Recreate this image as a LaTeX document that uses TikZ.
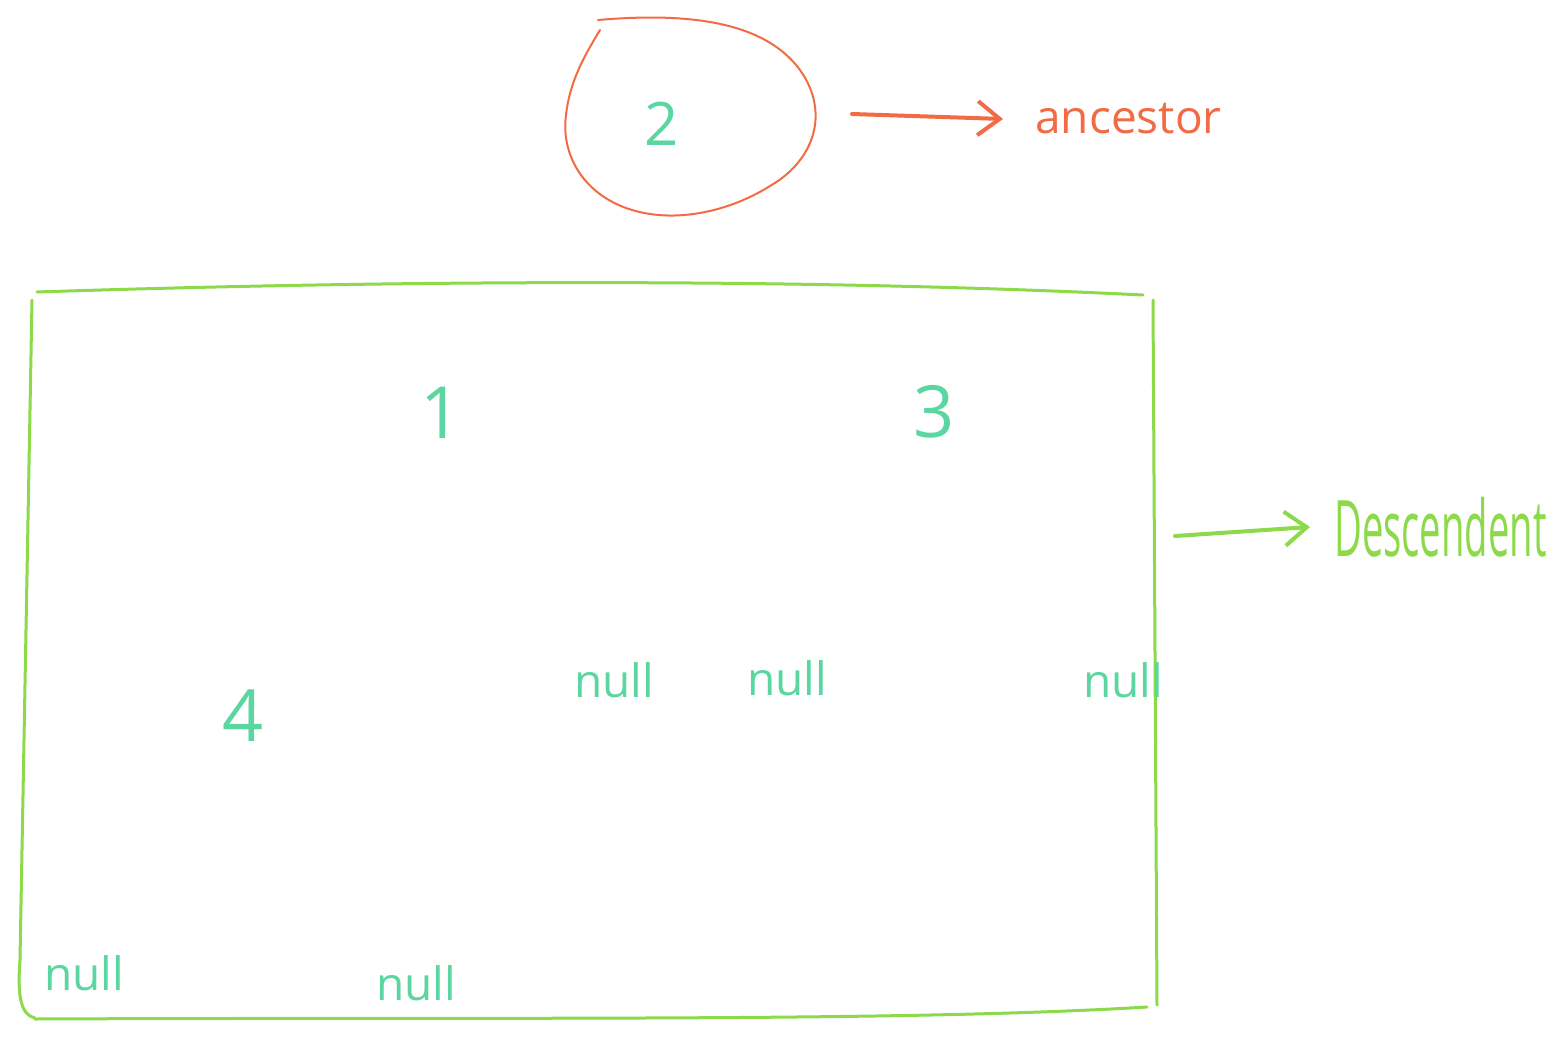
\documentclass[tikz,border=0pt]{standalone}
\usepackage{fontspec}
\setmainfont{Open Sans}
\usetikzlibrary{arrows.meta}
\definecolor{orng}{RGB}{242,107,69}
\definecolor{teal}{RGB}{92,214,160}
\definecolor{lgrn}{RGB}{140,217,74}
\begin{document}
\begin{tikzpicture}[x=0.5pt,y=-0.5pt,
  val/.style={text=teal,font=\fontsize{32}{34}\selectfont,inner sep=0pt},
  nul/.style={text=teal,font=\fontsize{23}{25}\selectfont,inner sep=0pt},
  tip/.style={-{Straight Barb[length=11pt,width=17pt,line width=2pt]}},
  line cap=round,line join=round]
\useasboundingbox (0,0) rectangle (1565,1039);
% ancestor loop
\draw[orng,line width=1pt] (598,20) .. controls (690,12) and (765,22) .. (800,70)
  .. controls (830,112) and (815,160) .. (770,186)
  .. controls (735,208) and (690,220) .. (650,214)
  .. controls (590,205) and (560,160) .. (566,115)
  .. controls (570,80) and (585,55) .. (600,30);
\node[val,font=\fontsize{30}{32}\selectfont] (n2) at (662,124) {2};
\coordinate (a0) at (852,114);
\node[text=orng,font=\fontsize{23}{25}\selectfont,inner sep=0pt,anchor=west] (anc) at (1035,119) {ancestor};
\draw[orng,line width=2pt,tip] (a0) -- ([xshift=-16pt]anc.west);
% descendant box
\draw[lgrn,line width=1.5pt] (37,292) .. controls (400,280) and (800,278) .. (1143,295);
\draw[lgrn,line width=1.5pt] (1153,300) -- (1157,1005);
\draw[lgrn,line width=1.5pt] (35,1019) .. controls (500,1017) and (900,1022) .. (1147,1007);
\draw[lgrn,line width=1.5pt] (32,300) -- (20,960) .. controls (17,1000) and (22,1015) .. (35,1018);
\coordinate (d0) at (1175,536);
\node[text=lgrn,font=\fontsize{39}{41}\selectfont,inner sep=0pt,anchor=west,xscale=0.49,transform shape] (desc) at (1334,527) {Descendent};
\draw[lgrn,line width=2pt,tip] (d0) -- ([xshift=-12pt]desc.west);
% values
\node[val,font=\fontsize{36}{38}\selectfont] (n1) at (441,413) {1};
\node[val,font=\fontsize{36}{38}\selectfont] (n3) at (934,412) {3};
\node[val,font=\fontsize{36}{38}\selectfont] (n4) at (243,716) {4};
\node[nul] (u1) at (614,680) {null};
\node[nul] (u2) at (787,678) {null};
\node[nul] (u3) at (1123,680) {null};
\node[nul] (u4) at (84,973) {null};
\node[nul] (u5) at (416,983) {null};
\end{tikzpicture}
\end{document}
